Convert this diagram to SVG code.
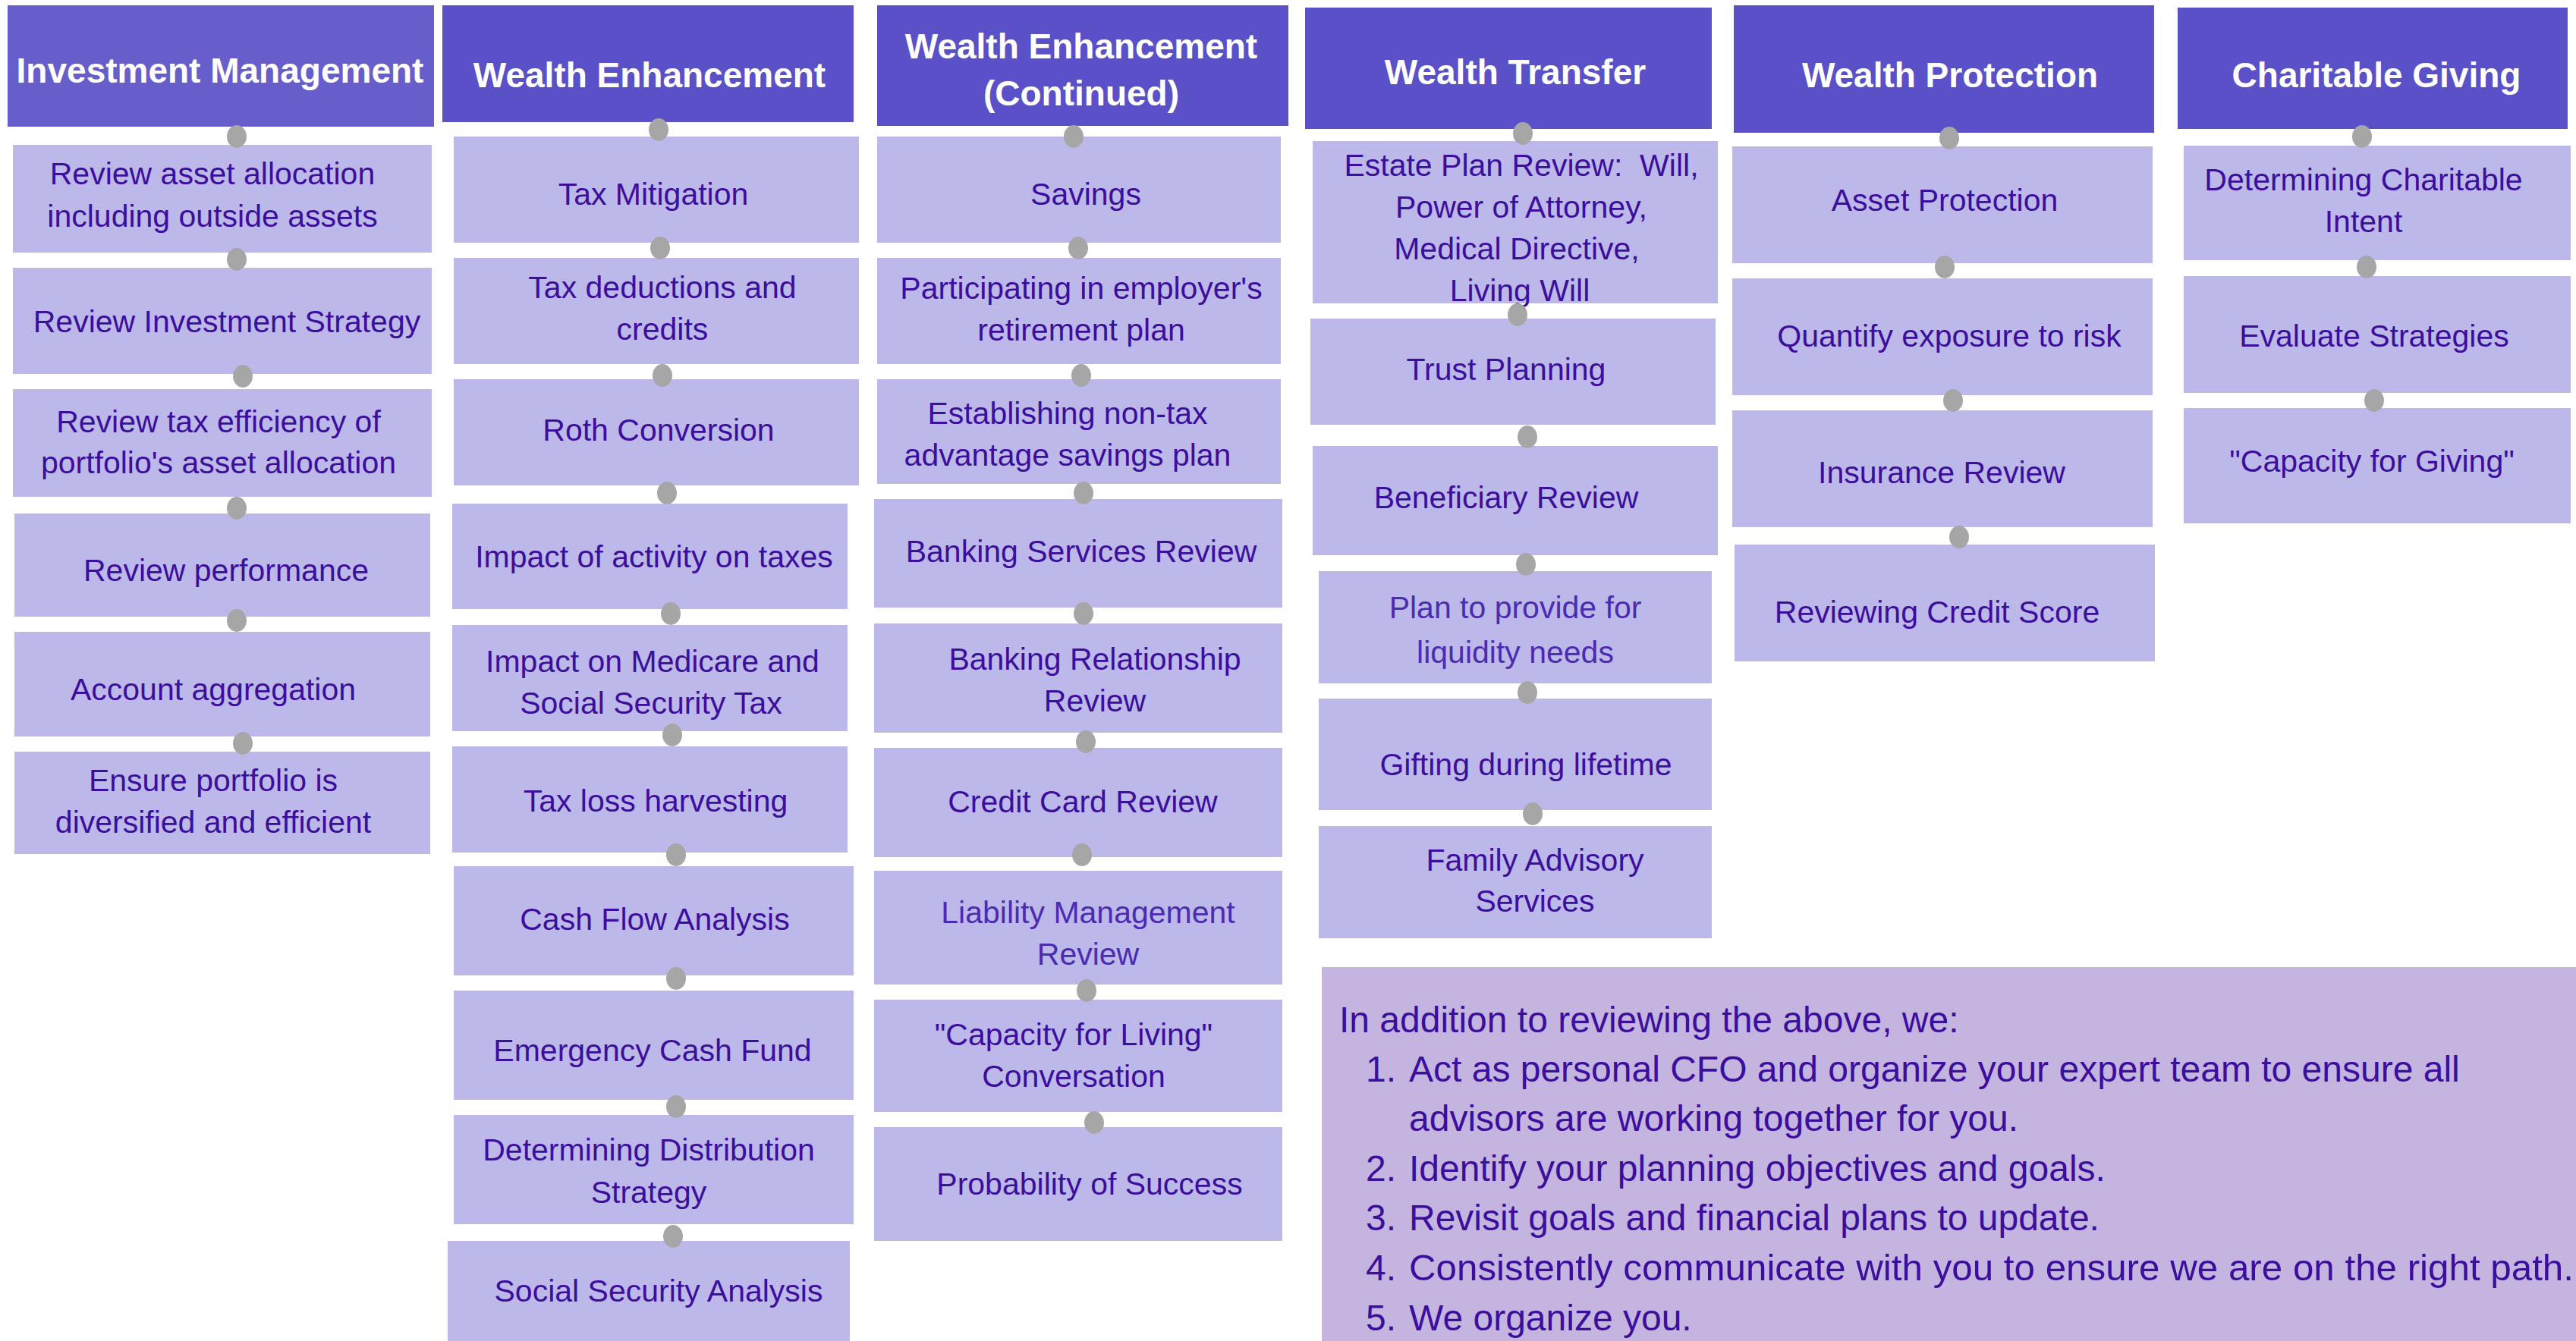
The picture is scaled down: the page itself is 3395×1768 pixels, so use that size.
<svg xmlns="http://www.w3.org/2000/svg" width="3395" height="1768" viewBox="0 0 3395 1768">
<style>
.hd{fill:#5A50C8}
.hd1{fill:#675ECB}
.bx{fill:#BCB8E9}
.ht{font-family:"Liberation Sans",Arial,sans-serif;font-weight:bold;font-size:46px;fill:#FFFFFF;text-anchor:middle}
.t{font-family:"Liberation Sans",Arial,sans-serif;font-size:41px;fill:#3C0E9E;text-anchor:middle;transform:translateY(2px)}
.tl{fill:#4A2BB2}
.dot{fill:#A6A6A6}
.note{fill:#C4B4E0}
.nt{font-family:"Liberation Sans",Arial,sans-serif;font-size:48px;fill:#3C0E9E}
.nn{text-anchor:end}
</style>
<rect width="3395" height="1768" fill="#FFFFFF"/>

<!-- Column 1: Investment Management -->
<g id="col1-header"><rect class="hd1" x="10" y="7" width="562" height="160"/><text class="ht" x="290" y="109">Investment Management</text></g>
<g id="im-1"><rect class="bx" x="17" y="191" width="552" height="142"/><text class="t" x="280" y="241">Review asset allocation</text><text class="t" x="280" y="297">including outside assets</text></g>
<g id="im-2"><rect class="bx" x="17" y="353" width="552" height="140"/><text class="t" x="299" y="436">Review Investment Strategy</text></g>
<g id="im-3"><rect class="bx" x="17" y="513" width="552" height="142"/><text class="t" x="288" y="568">Review tax efficiency of</text><text class="t" x="288" y="622">portfolio's asset allocation</text></g>
<g id="im-4"><rect class="bx" x="19" y="677" width="548" height="136"/><text class="t" x="298" y="764">Review performance</text></g>
<g id="im-5"><rect class="bx" x="19" y="833" width="548" height="138"/><text class="t" x="281" y="921">Account aggregation</text></g>
<g id="im-6"><rect class="bx" x="19" y="991" width="548" height="135"/><text class="t" x="281" y="1041">Ensure portfolio is</text><text class="t" x="281" y="1096">diversified and efficient</text></g>

<!-- Column 2: Wealth Enhancement -->
<g id="col2-header"><rect class="hd" x="583" y="7" width="542" height="154"/><text class="ht" x="856" y="115">Wealth Enhancement</text></g>
<g id="we-1"><rect class="bx" x="598" y="180" width="534" height="140"/><text class="t" x="861" y="268">Tax Mitigation</text></g>
<g id="we-2"><rect class="bx" x="598" y="340" width="534" height="140"/><text class="t" x="873" y="391">Tax deductions and</text><text class="t" x="873" y="446">credits</text></g>
<g id="we-3"><rect class="bx" x="598" y="500" width="534" height="140"/><text class="t" x="868" y="579">Roth Conversion</text></g>
<g id="we-4"><rect class="bx" x="596" y="664" width="521" height="139"/><text class="t" x="862" y="746">Impact of activity on taxes</text></g>
<g id="we-5"><rect class="bx" x="596" y="824" width="521" height="140"/><text class="t" x="860" y="884">Impact on Medicare and</text><text class="t" x="858" y="939">Social Security Tax</text></g>
<g id="we-6"><rect class="bx" x="596" y="984" width="521" height="140"/><text class="t" x="864" y="1068">Tax loss harvesting</text></g>
<g id="we-7"><rect class="bx" x="598" y="1142" width="527" height="144"/><text class="t" x="863" y="1224">Cash Flow Analysis</text></g>
<g id="we-8"><rect class="bx" x="598" y="1306" width="527" height="144"/><text class="t" x="860" y="1397">Emergency Cash Fund</text></g>
<g id="we-9"><rect class="bx" x="598" y="1470" width="527" height="144"/><text class="t" x="855" y="1528">Determining Distribution</text><text class="t" x="855" y="1584">Strategy</text></g>
<g id="we-10"><rect class="bx" x="590" y="1636" width="530" height="132"/><text class="t" x="868" y="1714">Social Security Analysis</text></g>

<!-- Column 3: Wealth Enhancement (Continued) -->
<g id="col3-header"><rect class="hd" x="1156" y="7" width="542" height="159"/><text class="ht" x="1425" y="77">Wealth Enhancement</text><text class="ht" x="1425" y="139">(Continued)</text></g>
<g id="wec-1"><rect class="bx" x="1156" y="180" width="532" height="140"/><text class="t" x="1431" y="268">Savings</text></g>
<g id="wec-2"><rect class="bx" x="1156" y="340" width="532" height="140"/><text class="t" x="1425" y="392">Participating in employer's</text><text class="t" x="1425" y="447">retirement plan</text></g>
<g id="wec-3"><rect class="bx" x="1156" y="500" width="532" height="138"/><text class="t" x="1407" y="557">Establishing non-tax</text><text class="t" x="1407" y="612">advantage savings plan</text></g>
<g id="wec-4"><rect class="bx" x="1152" y="658" width="538" height="143"/><text class="t" x="1425" y="739">Banking Services Review</text></g>
<g id="wec-5"><rect class="bx" x="1152" y="822" width="538" height="144"/><text class="t" x="1443" y="881">Banking Relationship</text><text class="t" x="1443" y="936">Review</text></g>
<g id="wec-6"><rect class="bx" x="1152" y="986" width="538" height="144"/><text class="t" x="1427" y="1069">Credit Card Review</text></g>
<g id="wec-7"><rect class="bx" x="1152" y="1148" width="538" height="150"/><text class="t tl" x="1434" y="1215">Liability Management</text><text class="t tl" x="1434" y="1270">Review</text></g>
<g id="wec-8"><rect class="bx" x="1152" y="1318" width="538" height="148"/><text class="t" x="1415" y="1376">"Capacity for Living"</text><text class="t" x="1415" y="1431">Conversation</text></g>
<g id="wec-9"><rect class="bx" x="1152" y="1486" width="538" height="150"/><text class="t" x="1436" y="1573">Probability of Success</text></g>

<!-- Column 4: Wealth Transfer -->
<g id="col4-header"><rect class="hd" x="1720" y="10" width="536" height="160"/><text class="ht" x="1997" y="111">Wealth Transfer</text></g>
<g id="wt-1"><rect class="bx" x="1730" y="186" width="534" height="214"/><text class="t" x="2005" y="230" style="white-space:pre">Estate Plan Review:  Will,</text><text class="t" x="2005" y="285">Power of Attorney,</text><text class="t" x="1999" y="340">Medical Directive,</text><text class="t" x="2003" y="395">Living Will</text></g>
<g id="wt-2"><rect class="bx" x="1727" y="420" width="534" height="140"/><text class="t" x="1985" y="499">Trust Planning</text></g>
<g id="wt-3"><rect class="bx" x="1730" y="588" width="534" height="144"/><text class="t" x="1985" y="668">Beneficiary Review</text></g>
<g id="wt-4"><rect class="bx" x="1738" y="753" width="518" height="148"/><text class="t tl" x="1997" y="813">Plan to provide for</text><text class="t tl" x="1997" y="872">liquidity needs</text></g>
<g id="wt-5"><rect class="bx" x="1738" y="921" width="518" height="147"/><text class="t" x="2011" y="1020">Gifting during lifetime</text></g>
<g id="wt-6"><rect class="bx" x="1738" y="1089" width="518" height="148"/><text class="t" x="2023" y="1146">Family Advisory</text><text class="t" x="2023" y="1200">Services</text></g>

<!-- Column 5: Wealth Protection -->
<g id="col5-header"><rect class="hd" x="2285" y="7" width="554" height="168"/><text class="ht" x="2570" y="115">Wealth Protection</text></g>
<g id="wp-1"><rect class="bx" x="2283" y="193" width="554" height="154"/><text class="t" x="2563" y="276">Asset Protection</text></g>
<g id="wp-2"><rect class="bx" x="2283" y="367" width="554" height="154"/><text class="t" x="2569" y="455">Quantify exposure to risk</text></g>
<g id="wp-3"><rect class="bx" x="2283" y="541" width="554" height="154"/><text class="t" x="2559" y="635">Insurance Review</text></g>
<g id="wp-4"><rect class="bx" x="2286" y="718" width="554" height="154"/><text class="t" x="2553" y="819">Reviewing Credit Score</text></g>

<!-- Column 6: Charitable Giving -->
<g id="col6-header"><rect class="hd" x="2870" y="10" width="514" height="160"/><text class="ht" x="3132" y="115">Charitable Giving</text></g>
<g id="cg-1"><rect class="bx" x="2878" y="192" width="510" height="151"/><text class="t" x="3115" y="249">Determining Charitable</text><text class="t" x="3115" y="304">Intent</text></g>
<g id="cg-2"><rect class="bx" x="2878" y="364" width="510" height="154"/><text class="t" x="3129" y="455">Evaluate Strategies</text></g>
<g id="cg-3"><rect class="bx" x="2878" y="538" width="510" height="152"/><text class="t" x="3126" y="620">"Capacity for Giving"</text></g>

<!-- Note -->
<g id="note">
<rect class="note" x="1742" y="1275" width="1653" height="493"/>
<text class="nt" x="1765" y="1361">In addition to reviewing the above, we:</text>
<text class="nt nn" x="1840" y="1426">1.</text><text class="nt" x="1857" y="1426">Act as personal CFO and organize your expert team to ensure all</text>
<text class="nt" x="1857" y="1491">advisors are working together for you.</text>
<text class="nt nn" x="1840" y="1557">2.</text><text class="nt" x="1857" y="1557">Identify your planning objectives and goals.</text>
<text class="nt nn" x="1840" y="1622">3.</text><text class="nt" x="1857" y="1622">Revisit goals and financial plans to update.</text>
<text class="nt nn" x="1840" y="1688">4.</text><text class="nt" x="1857" y="1688" textLength="1535" lengthAdjust="spacingAndGlyphs">Consistently communicate with you to ensure we are on the right path.</text>
<text class="nt nn" x="1840" y="1754">5.</text><text class="nt" x="1857" y="1754">We organize you.</text>
</g>

<!-- Connectors (dots) -->
<g id="connectors">
<ellipse class="dot" cx="312" cy="180" rx="13" ry="15"/>
<ellipse class="dot" cx="312" cy="342" rx="13" ry="15"/>
<ellipse class="dot" cx="320" cy="496" rx="13" ry="15"/>
<ellipse class="dot" cx="312" cy="670" rx="13" ry="15"/>
<ellipse class="dot" cx="312" cy="818" rx="13" ry="15"/>
<ellipse class="dot" cx="320" cy="980" rx="13" ry="15"/>

<ellipse class="dot" cx="868" cy="171" rx="13" ry="15"/>
<ellipse class="dot" cx="870" cy="327" rx="13" ry="15"/>
<ellipse class="dot" cx="873" cy="495" rx="13" ry="15"/>
<ellipse class="dot" cx="879" cy="650" rx="13" ry="15"/>
<ellipse class="dot" cx="884" cy="809" rx="13" ry="15"/>
<ellipse class="dot" cx="886" cy="969" rx="13" ry="15"/>
<ellipse class="dot" cx="891" cy="1127" rx="13" ry="15"/>
<ellipse class="dot" cx="891" cy="1290" rx="13" ry="15"/>
<ellipse class="dot" cx="891" cy="1459" rx="13" ry="15"/>
<ellipse class="dot" cx="887" cy="1630" rx="13" ry="15"/>

<ellipse class="dot" cx="1415" cy="180" rx="13" ry="15"/>
<ellipse class="dot" cx="1421" cy="327" rx="13" ry="15"/>
<ellipse class="dot" cx="1425" cy="495" rx="13" ry="15"/>
<ellipse class="dot" cx="1428" cy="650" rx="13" ry="15"/>
<ellipse class="dot" cx="1428" cy="809" rx="13" ry="15"/>
<ellipse class="dot" cx="1431" cy="978" rx="13" ry="15"/>
<ellipse class="dot" cx="1426" cy="1127" rx="13" ry="15"/>
<ellipse class="dot" cx="1432" cy="1306" rx="13" ry="15"/>
<ellipse class="dot" cx="1442" cy="1480" rx="13" ry="15"/>

<ellipse class="dot" cx="2007" cy="176" rx="13" ry="15"/>
<ellipse class="dot" cx="2000" cy="415" rx="13" ry="15"/>
<ellipse class="dot" cx="2013" cy="576" rx="13" ry="15"/>
<ellipse class="dot" cx="2011" cy="744" rx="13" ry="15"/>
<ellipse class="dot" cx="2013" cy="913" rx="13" ry="15"/>
<ellipse class="dot" cx="2020" cy="1073" rx="13" ry="15"/>

<ellipse class="dot" cx="2569" cy="182" rx="13" ry="15"/>
<ellipse class="dot" cx="2563" cy="352" rx="13" ry="15"/>
<ellipse class="dot" cx="2574" cy="528" rx="13" ry="15"/>
<ellipse class="dot" cx="2582" cy="708" rx="13" ry="15"/>

<ellipse class="dot" cx="3113" cy="180" rx="13" ry="15"/>
<ellipse class="dot" cx="3119" cy="352" rx="13" ry="15"/>
<ellipse class="dot" cx="3129" cy="528" rx="13" ry="15"/>
</g>
</svg>
